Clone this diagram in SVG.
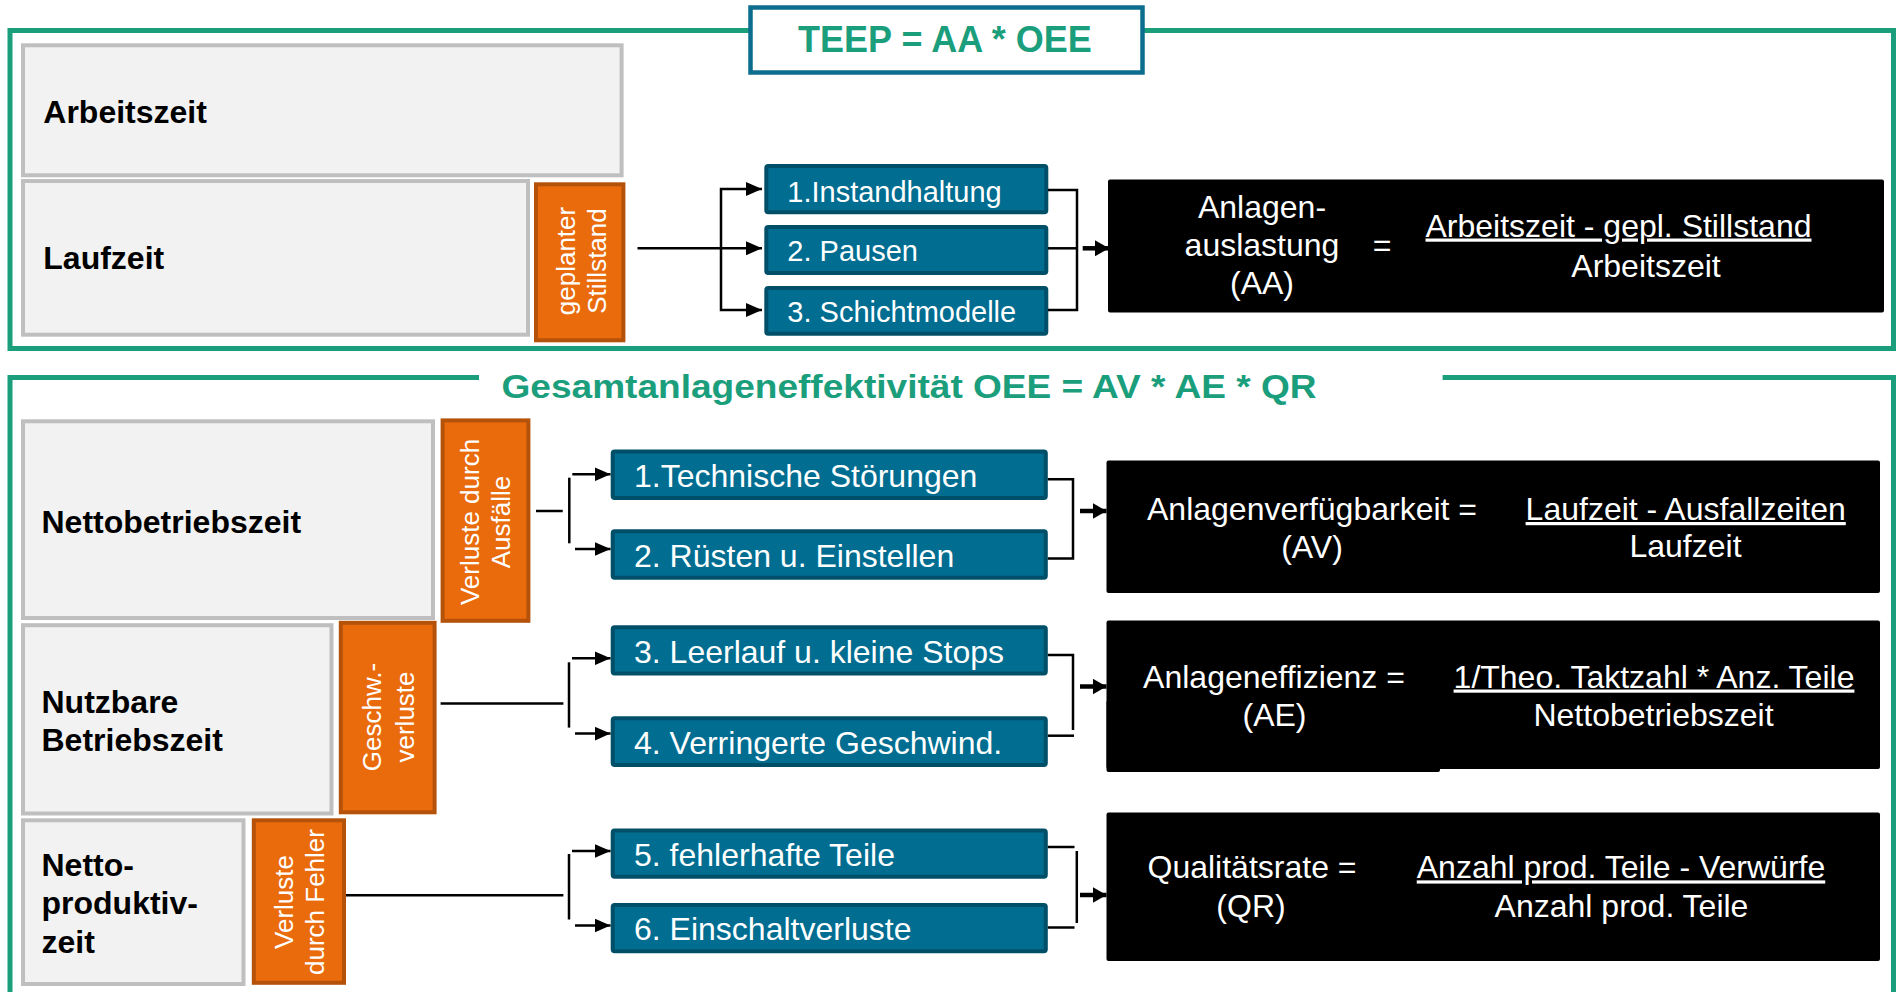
<svg xmlns="http://www.w3.org/2000/svg" width="1896" height="992" viewBox="0 0 1896 992">
<style>
  .frame { fill: none; stroke: #1A9E7C; stroke-width: 5; }
  .title { font-family: "Liberation Sans", Arial, sans-serif; font-weight: bold; fill: #1A9E7C; }
  .gray { fill: #F2F2F2; stroke: #BFBFBF; stroke-width: 4; }
  .gtxt { font-family: "Liberation Sans", Arial, sans-serif; font-weight: bold; font-size: 32px; fill: #000; }
  .orange { fill: #E96B0C; stroke: #B5520A; stroke-width: 4; }
  .otxt { font-family: "Liberation Sans", Arial, sans-serif; font-size: 26px; fill: #fff; text-anchor: middle; }
  .blue { fill: #006D91; stroke: #004F69; stroke-width: 4; }
  .btxt { font-family: "Liberation Sans", Arial, sans-serif; fill: #fff; }
  .black { fill: #000; }
  .ftxt { font-family: "Liberation Sans", Arial, sans-serif; font-size: 32px; fill: #fff; text-anchor: middle; }
  .ul { text-decoration: underline; }
  .conn { fill: none; stroke: #000; stroke-width: 2.5; }
  .thick { fill: none; stroke: #000; stroke-width: 4.5; }
</style>
<defs>
  <marker id="arr" markerUnits="userSpaceOnUse" markerWidth="16" markerHeight="14" refX="16" refY="7" orient="auto-start-reverse">
    <path d="M0,0 L16,7 L0,14 z" fill="#000"/>
  </marker>
  <marker id="arrB" markerUnits="userSpaceOnUse" markerWidth="14" markerHeight="16" refX="14" refY="8" orient="auto">
    <path d="M0,0 L14,8 L0,16 z" fill="#000"/>
  </marker>
</defs>

<rect width="1896" height="992" fill="#fff"/>

<!-- frames -->
<g id="frames">
  <rect class="frame" x="10" y="30.5" width="1883.5" height="318"/>
  <path class="frame" d="M479,377.5 H10 V1000"/>
  <path class="frame" d="M1442.6,377.5 H1893.5 V1000"/>
</g>

<g id="teep-title">
  <rect x="750.5" y="7.5" width="392" height="65" fill="#fff" stroke="#0B6E8F" stroke-width="4.5"/>
  <text class="title" x="945" y="52" font-size="36" text-anchor="middle">TEEP = AA * OEE</text>
</g>

<g id="oee-title">
  <text class="title" x="909" y="397.5" font-size="34" text-anchor="middle" textLength="815" lengthAdjust="spacingAndGlyphs">Gesamtanlageneffektivität OEE = AV * AE * QR</text>
</g>

<!-- gray time blocks -->
<g id="arbeitszeit">
  <rect class="gray" x="23" y="45.3" width="598.6" height="130"/>
  <text class="gtxt" x="43.3" y="123.3">Arbeitszeit</text>
</g>
<g id="laufzeit">
  <rect class="gray" x="23" y="181" width="505" height="153.7"/>
  <text class="gtxt" x="43.3" y="269.3">Laufzeit</text>
</g>
<g id="nettobetriebszeit">
  <rect class="gray" x="23" y="421.3" width="410" height="196.7"/>
  <text class="gtxt" x="41.5" y="532.5">Nettobetriebszeit</text>
</g>
<g id="nutzbare-betriebszeit">
  <rect class="gray" x="23" y="625.2" width="308.5" height="188.3"/>
  <text class="gtxt" x="41.5" y="712.7">Nutzbare</text>
  <text class="gtxt" x="41.5" y="751">Betriebszeit</text>
</g>
<g id="nettoproduktivzeit">
  <rect class="gray" x="23" y="820.3" width="220.5" height="163.7"/>
  <text class="gtxt" x="41.5" y="876">Netto-</text>
  <text class="gtxt" x="41.5" y="914">produktiv-</text>
  <text class="gtxt" x="41.5" y="952.5">zeit</text>
</g>

<!-- orange loss blocks -->
<g id="geplanter-stillstand">
  <rect class="orange" x="536" y="184.3" width="87.4" height="156"/>
  <text class="otxt" transform="translate(0,261) rotate(-90)"><tspan x="0" y="575">geplanter</tspan><tspan x="0" y="606">Stillstand</tspan></text>
</g>
<g id="verluste-ausfaelle">
  <rect class="orange" x="442.6" y="420.4" width="85.8" height="200.4"/>
  <text class="otxt" transform="translate(0,522) rotate(-90)"><tspan x="0" y="478.5">Verluste durch</tspan><tspan x="0" y="509.6">Ausfälle</tspan></text>
</g>
<g id="geschw-verluste">
  <rect class="orange" x="340.8" y="622.8" width="93.8" height="189.5"/>
  <text class="otxt" transform="translate(0,717) rotate(-90)"><tspan x="0" y="380.5">Geschw.-</tspan><tspan x="0" y="414">verluste</tspan></text>
</g>
<g id="verluste-fehler">
  <rect class="orange" x="253.8" y="820.3" width="90.2" height="162.5"/>
  <text class="otxt" transform="translate(0,902) rotate(-90)"><tspan x="0" y="293">Verluste</tspan><tspan x="0" y="324.4">durch Fehler</tspan></text>
</g>

<!-- blue cause boxes (top) -->
<g id="instandhaltung">
  <rect class="blue" x="766.3" y="166" width="280" height="46.3" rx="2"/>
  <text class="btxt" x="787.3" y="201.5" font-size="29">1.Instandhaltung</text>
</g>
<g id="pausen">
  <rect class="blue" x="766.3" y="227" width="280" height="46" rx="2"/>
  <text class="btxt" x="787.3" y="261" font-size="29">2. Pausen</text>
</g>
<g id="schichtmodelle">
  <rect class="blue" x="766.3" y="288" width="280" height="45.7" rx="2"/>
  <text class="btxt" x="787.3" y="322" font-size="29">3. Schichtmodelle</text>
</g>

<!-- blue cause boxes (bottom) -->
<g id="technische-stoerungen">
  <rect class="blue" x="612.7" y="451.5" width="433.1" height="46.5" rx="2"/>
  <text class="btxt" x="634" y="486.5" font-size="32">1.Technische Störungen</text>
</g>
<g id="ruesten">
  <rect class="blue" x="612.7" y="531.3" width="433.1" height="46.4" rx="2"/>
  <text class="btxt" x="634" y="566.5" font-size="32">2. Rüsten u. Einstellen</text>
</g>
<g id="leerlauf">
  <rect class="blue" x="612.7" y="627.2" width="433.1" height="46.4" rx="2"/>
  <text class="btxt" x="634" y="662.5" font-size="32">3. Leerlauf u. kleine Stops</text>
</g>
<g id="geschwindigkeit">
  <rect class="blue" x="612.7" y="718.3" width="433.1" height="46.7" rx="2"/>
  <text class="btxt" x="634" y="753.5" font-size="32">4. Verringerte Geschwind.</text>
</g>
<g id="fehlerhafte-teile">
  <rect class="blue" x="612.7" y="830.4" width="433.1" height="46.3" rx="2"/>
  <text class="btxt" x="634" y="865.5" font-size="32">5. fehlerhafte Teile</text>
</g>
<g id="einschaltverluste">
  <rect class="blue" x="612.7" y="905" width="433.1" height="46.3" rx="2"/>
  <text class="btxt" x="634" y="940" font-size="32">6. Einschaltverluste</text>
</g>

<!-- black formula boxes -->
<g id="anlagenauslastung">
  <rect class="black" x="1108" y="179.5" width="776" height="133" rx="2"/>
  <text class="ftxt" x="1262" y="218.3">Anlagen-</text>
  <text class="ftxt" x="1262" y="256">auslastung</text>
  <text class="ftxt" x="1262" y="294">(AA)</text>
  <text class="ftxt" x="1382" y="256">=</text>
  <text class="ftxt ul" x="1618.5" y="236.5">Arbeitszeit - gepl. Stillstand</text>
  <text class="ftxt" x="1646" y="276.5">Arbeitszeit</text>
</g>
<g id="anlagenverfuegbarkeit">
  <rect class="black" x="1106.5" y="460.5" width="773.5" height="132.5" rx="2"/>
  <text class="ftxt" x="1312" y="520">Anlagenverfügbarkeit =</text>
  <text class="ftxt" x="1312" y="557.5">(AV)</text>
  <text class="ftxt ul" x="1685.7" y="520">Laufzeit - Ausfallzeiten</text>
  <text class="ftxt" x="1685.5" y="557">Laufzeit</text>
</g>
<g id="anlageneffizienz">
  <rect class="black" x="1106.5" y="620.5" width="773.5" height="148.5" rx="2"/>
  <rect class="black" x="1106.5" y="700" width="333.5" height="72" rx="2"/>
  <text class="ftxt" x="1274" y="687.5">Anlageneffizienz =</text>
  <text class="ftxt" x="1274.5" y="726">(AE)</text>
  <text class="ftxt ul" x="1654" y="687.5">1/Theo. Taktzahl * Anz. Teile</text>
  <text class="ftxt" x="1653.5" y="726">Nettobetriebszeit</text>
</g>
<g id="qualitaetsrate">
  <rect class="black" x="1106.5" y="812.5" width="773.5" height="148.5" rx="2"/>
  <text class="ftxt" x="1252" y="878.4">Qualitätsrate =</text>
  <text class="ftxt" x="1251" y="917">(QR)</text>
  <text class="ftxt ul" x="1621" y="878.4">Anzahl prod. Teile - Verwürfe</text>
  <text class="ftxt" x="1621.5" y="917">Anzahl prod. Teile</text>
</g>

<!-- connectors -->
<g id="connectors">
  <!-- top group -->
  <path class="conn" d="M637.5,248.3 H762" marker-end="url(#arr)"/>
  <path class="conn" d="M762,189 H721 V310 H762" marker-start="url(#arr)" marker-end="url(#arr)"/>
  <path class="conn" d="M1048,190 H1077 V310 H1048"/>
  <path class="conn" d="M1048,248.3 H1077"/>
  <path class="thick" d="M1082.7,248.3 H1109" marker-end="url(#arrB)"/>

  <!-- group AV -->
  <path class="conn" d="M536,511 H562.7"/>
  <path class="conn" d="M569.3,477.7 V543.3"/>
  <path class="conn" d="M572.3,474.3 H610.5" marker-end="url(#arr)"/>
  <path class="conn" d="M575,549 H610.5" marker-end="url(#arr)"/>
  <path class="conn" d="M1047.8,479.3 H1073 V558.5 H1047.8"/>
  <path class="thick" d="M1080,511 H1106.5" marker-end="url(#arrB)"/>

  <!-- group AE -->
  <path class="conn" d="M440.6,703.4 H563.4"/>
  <path class="conn" d="M569,662.3 V727.6"/>
  <path class="conn" d="M572,658.3 H610.5" marker-end="url(#arr)"/>
  <path class="conn" d="M575,733.6 H610.5" marker-end="url(#arr)"/>
  <path class="conn" d="M1047.8,655 H1073 V730"/>
  <path class="conn" d="M1047.8,735.7 H1074"/>
  <path class="thick" d="M1080,686.5 H1106.5" marker-end="url(#arrB)"/>

  <!-- group QR -->
  <path class="conn" d="M346,895.3 H563.4"/>
  <path class="conn" d="M569,854 V919.5"/>
  <path class="conn" d="M572,851 H610.5" marker-end="url(#arr)"/>
  <path class="conn" d="M575,925.5 H610.5" marker-end="url(#arr)"/>
  <path class="conn" d="M1047.8,847 H1074.5"/>
  <path class="conn" d="M1047.8,927.5 H1074.5"/>
  <path class="conn" d="M1076.8,851 V923"/>
  <path class="thick" d="M1080,895 H1106.5" marker-end="url(#arrB)"/>
</g>
</svg>
